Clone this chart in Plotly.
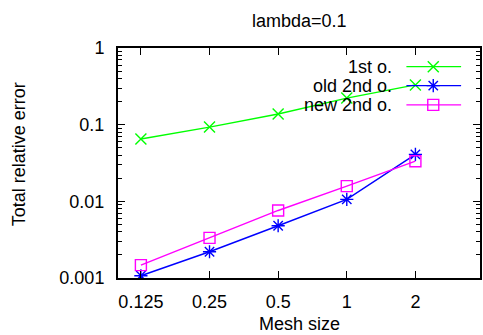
import math
import plotly.graph_objects as go

mesh = [0.125, 0.25, 0.5, 1, 2]
mesh_labels = ["0.125", "0.25", "0.5", "1", "2"]
first_order = [0.065, 0.093, 0.138, 0.222, 0.33]
old_second = [0.00107, 0.0022, 0.0048, 0.0106, 0.041]
new_second = [0.00147, 0.00334, 0.0076, 0.0158, 0.0334]
y_ticks = [0.001, 0.01, 0.1, 1]
y_labels = ["0.001", "0.01", "0.1", "1"]
series_names = ["1st o.", "old 2nd o.", "new 2nd o."]
colors = ["#00ff00", "#0000ff", "#ff00ff"]
symbols = ["x-thin-open", "asterisk-open", "square-open"]

W, H = 483, 335
L, R, T, B = 118, 482, 48, 278.5
FONT = "Liberation Sans, Arial, Helvetica, sans-serif"

def px(x):
    return (x - L) / (R - L)

def py(y):
    return (B - y) / (B - T)

fig = go.Figure()
for name, vals, c, s in zip(series_names, [first_order, old_second, new_second], colors, symbols):
    fig.add_trace(go.Scatter(
        x=mesh, y=vals, mode="lines+markers", name=name,
        line=dict(color=c, width=1.4),
        marker=dict(symbol=s, size=11, color=c, line=dict(color=c, width=1.4)),
        showlegend=False,
    ))

# manual gnuplot-style legend (text left of sample)
leg_y = [66.7, 85.7, 105]
shapes = []
annotations = []
for name, c, s, yy in zip(series_names, colors, symbols, leg_y):
    shapes.append(dict(type="line", xref="paper", yref="paper",
                       x0=px(408), x1=px(463), y0=py(yy), y1=py(yy),
                       line=dict(color=c, width=1.4)))
    annotations.append(dict(text=name, xref="paper", yref="paper",
                            x=px(396), y=py(yy), xanchor="right", yanchor="middle",
                            showarrow=False, font=dict(size=18, color="black", family=FONT)))
fig.add_trace(go.Scatter(
    x=[px(435)] * 3, y=[py(v) for v in leg_y], mode="markers",
    xaxis="x2", yaxis="y2", showlegend=False, hoverinfo="skip",
    marker=dict(symbol=symbols, size=11, color=colors, line=dict(color=colors, width=1.4)),
))

annotations.append(dict(text="Total relative error", xref="paper", yref="paper",
                        x=px(18), y=py(155), xanchor="center", yanchor="middle",
                        textangle=-90, showarrow=False,
                        font=dict(size=18, color="black", family=FONT)))
annotations.append(dict(text="lambda=0.1", xref="paper", yref="paper",
                        x=px(300), y=py(21), xanchor="center", yanchor="middle",
                        showarrow=False, font=dict(size=18, color="black", family=FONT)))
annotations.append(dict(text="Mesh size", xref="paper", yref="paper",
                        x=px(300), y=py(325), xanchor="center", yanchor="middle",
                        showarrow=False, font=dict(size=18, color="black", family=FONT)))

minor_y = [m * 10 ** e for e in (-3, -2, -1) for m in range(2, 10)]

fig.update_layout(
    width=W, height=H,
    margin=dict(l=L, r=W - R, t=T, b=H - B, pad=0),
    paper_bgcolor="white", plot_bgcolor="white",
    font=dict(family=FONT, size=18, color="black"),
    shapes=shapes, annotations=annotations,
    xaxis=dict(type="log", range=[math.log10(0.0992), math.log10(3.84)],
               tickvals=mesh, ticktext=mesh_labels, ticks="inside", ticklen=7,
               tickwidth=1, tickcolor="black", showline=True, linecolor="black",
               linewidth=2, mirror="allticks", showgrid=False, zeroline=False,
               ticklabelstandoff=6),
    yaxis=dict(type="log", range=[-3, 0], tickvals=y_ticks, ticktext=y_labels,
               ticks="inside", ticklen=7, tickwidth=1, tickcolor="black",
               showline=True, linecolor="black", linewidth=2, mirror="allticks",
               showgrid=False, zeroline=False, ticklabelstandoff=8,
               minor=dict(tickvals=minor_y, ticks="inside", ticklen=4,
                          tickcolor="black", tickwidth=1, showgrid=False)),
    xaxis2=dict(overlaying="x", range=[0, 1], visible=False, fixedrange=True),
    yaxis2=dict(overlaying="y", range=[0, 1], visible=False, fixedrange=True),
)

fig.write_html("out.html", config={"displayModeBar": False},
               post_script="document.body.style.margin='0';document.body.style.padding='0';")
